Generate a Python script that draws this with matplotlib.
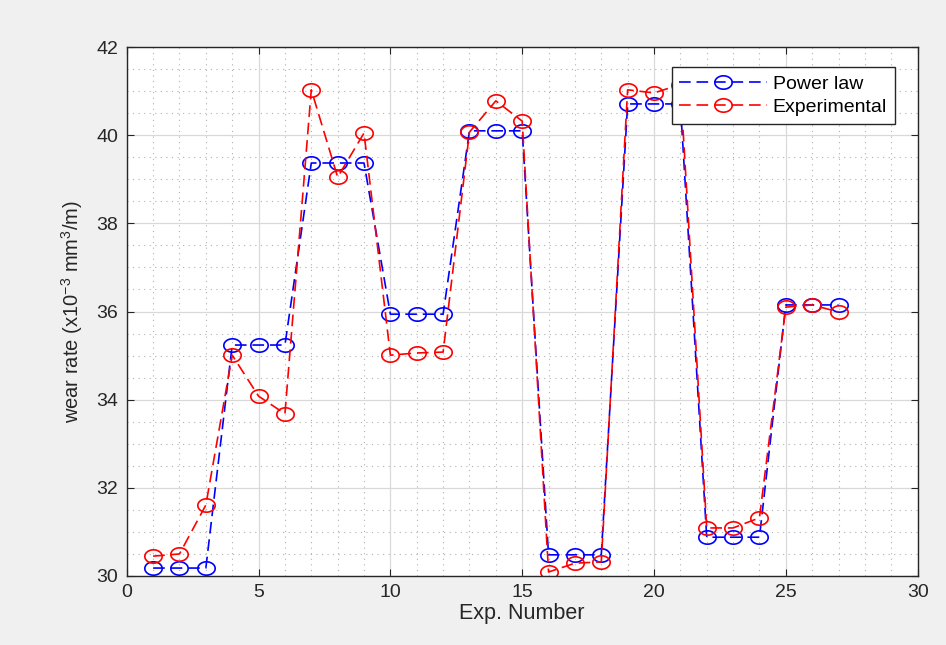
import matplotlib
matplotlib.use('Agg')
import numpy as np
import matplotlib.pyplot as plt
from matplotlib.path import Path
from matplotlib.ticker import MultipleLocator

plt.rcParams['font.family'] = ['Liberation Sans', 'DejaVu Sans']
plt.rcParams['mathtext.fontset'] = 'custom'
plt.rcParams['mathtext.rm'] = 'Liberation Sans'
plt.rcParams['mathtext.it'] = 'Liberation Sans'

exp_no = list(range(1, 28))
power_law = [30.18, 30.18, 30.18, 35.24, 35.24, 35.24, 39.37, 39.37, 39.37,
             35.94, 35.94, 35.94, 40.10, 40.10, 40.10, 30.48, 30.48, 30.48,
             40.71, 40.71, 40.71, 30.88, 30.88, 30.88, 36.15, 36.15, 36.15]
experimental = [30.45, 30.50, 31.61, 35.01, 34.08, 33.68, 41.03, 39.05, 40.05,
                35.01, 35.06, 35.08, 40.07, 40.78, 40.32, 30.09, 30.29, 30.32,
                41.03, 40.96, 41.15, 31.09, 31.09, 31.32, 36.10, 36.15, 35.99]

# slightly wide circle, the original image is stretched sideways
t = np.linspace(0, 2 * np.pi, 60)
ring = Path(np.column_stack([1.3 * np.cos(t), np.sin(t)]), closed=True)

fig = plt.figure(figsize=(9.46, 6.45), dpi=100, facecolor='#f0f0f0')
ax = fig.add_axes([0.134, 0.107, 0.836, 0.820])
ax.set_facecolor('white')

ax.plot(exp_no, power_law, '--', marker=ring, color='#0000ff', lw=1.2, ms=12.5,
        mfc='none', mew=1.2, dashes=(7, 3.5), label='Power law')
ax.plot(exp_no, experimental, '--', marker=ring, color='#ff0000', lw=1.2, ms=12.5,
        mfc='none', mew=1.2, dashes=(7, 3.5), label='Experimental')

ax.set_xlim(0, 30)
ax.set_ylim(30, 42)
ax.xaxis.set_major_locator(MultipleLocator(5))
ax.xaxis.set_minor_locator(MultipleLocator(1))
ax.yaxis.set_major_locator(MultipleLocator(2))
ax.yaxis.set_minor_locator(MultipleLocator(0.5))
ax.grid(which='major', color='#d9d9d9', lw=0.9, ls='-')
ax.grid(which='minor', color='#b0b0b0', lw=0.8, ls=(0, (1, 4)))
ax.set_axisbelow(True)
ax.tick_params(which='both', direction='in', top=True, right=True,
               colors='#262626', labelsize=14, pad=6)
ax.tick_params(which='major', length=5)
ax.tick_params(which='minor', length=0)
for s in ax.spines.values():
    s.set_color('#262626')
    s.set_linewidth(1.0)

ax.set_xlabel('Exp. Number', fontsize=15.5, color='#262626', labelpad=1)
ax.set_ylabel('wear rate (x10$^{-3}$ mm$^{3}$/m)', fontsize=14.5,
              color='#262626', labelpad=8)

leg = ax.legend(loc='upper right', bbox_to_anchor=(0.971, 0.962),
                fontsize=14, fancybox=False, framealpha=1, edgecolor='#262626',
                handlelength=4.5, borderpad=0.4, labelspacing=0.3,
                handletextpad=0.3, borderaxespad=0)
leg.get_frame().set_linewidth(1.0)

fig.savefig('out.png', dpi=100, facecolor=fig.get_facecolor())
